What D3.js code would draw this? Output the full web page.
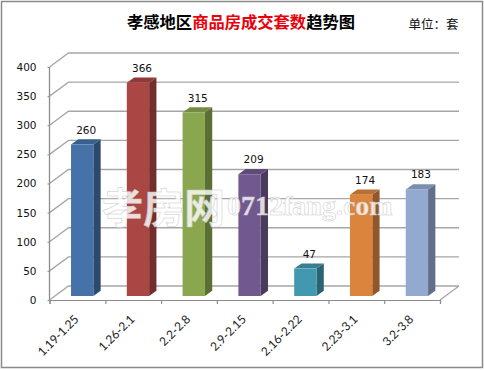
<!DOCTYPE html>
<html>
<head>
<meta charset="utf-8">
<script src="https://cdn.jsdelivr.net/npm/d3@7"></script>
<style>
html, body { margin: 0; padding: 0; background: #fff; }
svg { display: block; }
text { font-family: "DejaVu Sans", sans-serif; }
.cjk { font-family: "Noto Sans CJK SC", sans-serif; }
</style>
</head>
<body>
<div id="chart"></div>
<script>
// values
const categories = ["1.19-1.25", "1.26-2.1", "2.2-2.8", "2.9-2.15", "2.16-2.22", "2.23-3.1", "3.2-3.8"];
const counts = [260, 366, 315, 209, 47, 174, 183];
const yTicks = [0, 50, 100, 150, 200, 250, 300, 350, 400];
const frontColors = ["#4672a8", "#aa4644", "#8aa64e", "#71588f", "#4198af", "#db843d", "#93a9cf"];
const sideColors = ["#2c4a70", "#722e2d", "#5b6e33", "#4a3a5e", "#2a6474", "#91572a", "#616f89"];
const topColors = ["#38608f", "#8f3a38", "#748c41", "#5f4a78", "#367f93", "#b86f33", "#7b8eae"];

const width = 484, height = 370;
const margin = {top: 67, right: 44, bottom: 70, left: 49.5};
const wallDx = 19, wallDy = 14;   // depth of the back wall
const barDx = 7.3, barDy = 5.2;   // depth of a single bar
const barShiftX = 4.8, barShiftY = 4;

const svg = d3.select("#chart").append("svg")
    .attr("width", width)
    .attr("height", height);

// outer frame
svg.append("rect")
    .attr("x", 1.5).attr("y", 1.5)
    .attr("width", width - 3).attr("height", height - 4)
    .attr("fill", "#fff")
    .attr("stroke", "#8a8a8a")
    .attr("stroke-width", 1.5);

let xScale = d3.scaleBand()
    .domain(categories)
    .range([margin.left, width - margin.right])
    .paddingInner(0.6)
    .paddingOuter(0.3);

let yScale = d3.scaleLinear()
    .domain([0, 400])
    .range([height - margin.bottom, margin.top]);

let x0 = xScale.range()[0], x1 = xScale.range()[1];

// gridlines: front diagonal + back wall line
let grid = svg.append("g").attr("stroke", "#a6a6a6").attr("stroke-width", 1.3).attr("fill", "none");
grid.selectAll("path.grid").data(yTicks).join("path")
    .attr("class", "grid")
    .attr("d", d => `M${x0},${yScale(d)}L${x0 + wallDx},${yScale(d) - wallDy}L${x1 + wallDx},${yScale(d) - wallDy}`);
// floor right edge
grid.append("path")
    .attr("d", `M${x1},${yScale(0)}L${x1 + wallDx},${yScale(0) - wallDy}`);

// axes
let yAxis = d3.axisLeft(yScale).tickValues(yTicks).tickSize(2).tickPadding(11);
let xAxis = d3.axisBottom(d3.scalePoint().domain(d3.range(categories.length + 1)).range([x0, x1]))
    .tickFormat("").tickSize(4);

let yG = svg.append("g").attr("transform", `translate(${x0},0)`).call(yAxis);
yG.selectAll("text").attr("font-size", 10.5).attr("fill", "#111").style("font-family", '"DejaVu Sans"');
yG.selectAll("line, path").attr("stroke", "#8c8c8c");
yG.select("path").attr("d", `M0,${yScale(0)}V${yScale(400)}`).attr("stroke-width", 1.3);

let xG = svg.append("g").attr("transform", `translate(0,${yScale(0)})`).call(xAxis);
xG.selectAll("line, path").attr("stroke", "#8c8c8c").attr("stroke-width", 1.2);

// bars: side, top, front
let bars = svg.append("g").selectAll("g").data(categories).join("g");
let barX = d => xScale(d) + barShiftX;
let barVal = i => yScale(counts[i]) - barShiftY;
let barBase = yScale(0) - barShiftY;
let bw = xScale.bandwidth();

bars.append("path")
    .attr("fill", (d, i) => sideColors[i])
    .attr("d", (d, i) => `M${barX(d) + bw},${barVal(i)}l${barDx},${-barDy}V${barBase - barDy}l${-barDx},${barDy}Z`);
bars.append("path")
    .attr("fill", (d, i) => topColors[i])
    .attr("d", (d, i) => `M${barX(d)},${barVal(i)}l${barDx},${-barDy}h${bw}l${-barDx},${barDy}Z`);
bars.append("rect")
    .attr("x", d => barX(d))
    .attr("y", (d, i) => barVal(i))
    .attr("width", bw)
    .attr("height", (d, i) => barBase - barVal(i))
    .attr("fill", (d, i) => frontColors[i]);

// value labels
bars.append("text")
    .attr("x", d => barX(d) + bw / 2 + 4)
    .attr("y", (d, i) => barVal(i) - 11)
    .attr("text-anchor", "middle")
    .attr("font-size", 10.5)
    .attr("fill", "#111")
    .text((d, i) => counts[i]);

// tick labels, rotated 45deg
svg.append("g").selectAll("text").data(categories).join("text")
    .attr("transform", d => `translate(${xScale(d) + bw - 9},${yScale(0) + 20}) rotate(-45)`)
    .attr("text-anchor", "end")
    .attr("font-size", 12)
    .attr("fill", "#222")
    .style("font-family", "Lato")
    .text(d => d);

// watermark
let mark = svg.append("g").attr("fill", "#fff").attr("fill-opacity", 0.82)
    .attr("stroke", "#c8c8c8").attr("stroke-width", 0.5);
mark.append("text").attr("class", "cjk")
    .attr("x", 102).attr("y", 223)
    .attr("font-size", 41).attr("font-weight", 700)
    .text("孝房网");
mark.append("text")
    .attr("x", 227).attr("y", 215)
    .attr("font-size", 28).attr("font-weight", 700)
    .style("font-family", '"Liberation Serif"')
    .text("0712fang.com");

// title
let title = svg.append("text").attr("class", "cjk")
    .attr("x", 127).attr("y", 27.5)
    .attr("font-size", 16.3).attr("font-weight", 700)
    .attr("fill", "#000");
title.append("tspan").text("孝感地区");
title.append("tspan").attr("fill", "#e8000b").text("商品房成交套数");
title.append("tspan").text("趋势图");

svg.append("text").attr("class", "cjk")
    .attr("x", 408.5).attr("y", 29)
    .attr("font-size", 12.5)
    .attr("fill", "#111")
    .text("单位：套");
</script>
</body>
</html>
